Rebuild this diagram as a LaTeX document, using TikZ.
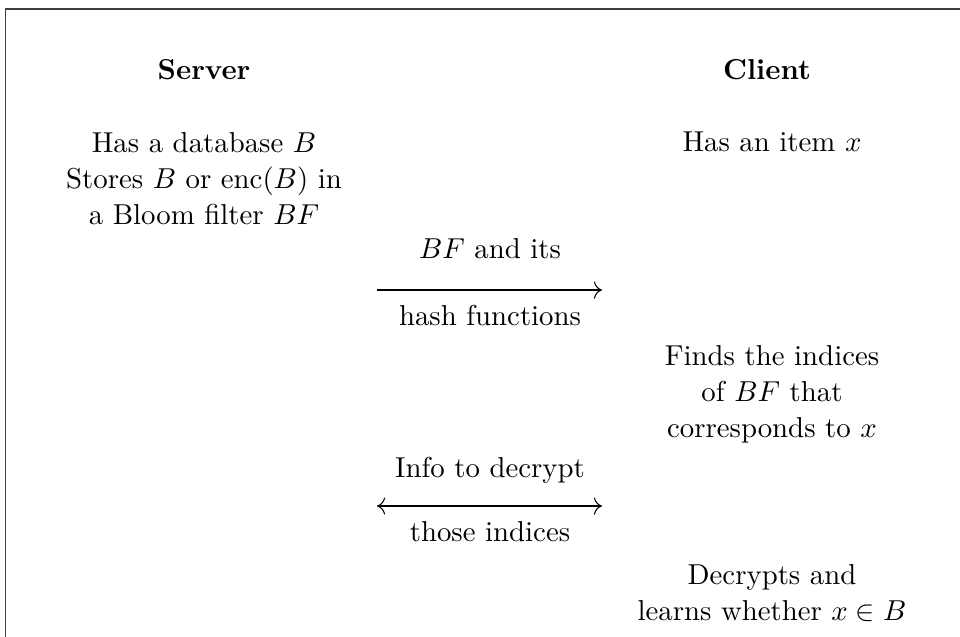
\documentclass[tikz,border=0pt]{standalone}
\usetikzlibrary{arrows.meta}
\begin{document}
\begin{tikzpicture}[
  x=0.3802pt, y=-0.3802pt,
  txt/.style={font=\fontsize{10.95}{13.6}\selectfont, align=center, inner sep=0pt, anchor=base},
  head/.style={txt, font=\fontsize{10.95}{13.6}\selectfont\bfseries},
  frameline/.style={draw=black!75, line width=0.4pt},
  cmtip/.style={Computer Modern Rightarrow[scale=1.25]},
  msg/.style={line width=0.4pt, -{Computer Modern Rightarrow[scale=1.25]}},
  biarrow/.style={line width=0.4pt, {Computer Modern Rightarrow[scale=1.25]}-{Computer Modern Rightarrow[scale=1.25]}}
]
\useasboundingbox (0,0) rectangle (960,636);
\clip (0,0) rectangle (960,636);

% open frame around the exchange
\draw[frameline] (5.5,700) -- (5.5,9) -- (1000,9);

% parties
\node[head] (server) at (204,79) {Server};
\node[head] (client) at (767,79) {Client};

% initial state of each party (base anchor = baseline of the last line)
\node[txt] (srvinfo) at (204,224) {Has a database $B$\\Stores $B$ or $\mathrm{enc}(B)$ in\\a Bloom filter $BF$};
\node[txt] (item) at (772,151) {Has an item $x$};

% first message: server to client
\coordinate (s1) at (377,290);
\coordinate (c1) at (602,290);
\draw[msg] (s1) -- (c1);
\node[txt] (m1top) at (490,258) {$BF$ and its};
\node[txt] (m1bot) at (490,325) {hash functions};

% client computation
\node[txt] (find) at (772,437) {Finds the indices\\of $BF$ that\\corresponds to $x$};

% second exchange, both directions
\coordinate (s2) at (377,506);
\coordinate (c2) at (602,506);
\draw[biarrow] (s2) -- (c2);
\node[txt] (m2top) at (490,477) {Info to decrypt};
\node[txt] (m2bot) at (490,541) {those indices};

% final result at the client
\node[txt] (learn) at (772,620) {Decrypts and\\learns whether $x \in B$};
\end{tikzpicture}
\end{document}
